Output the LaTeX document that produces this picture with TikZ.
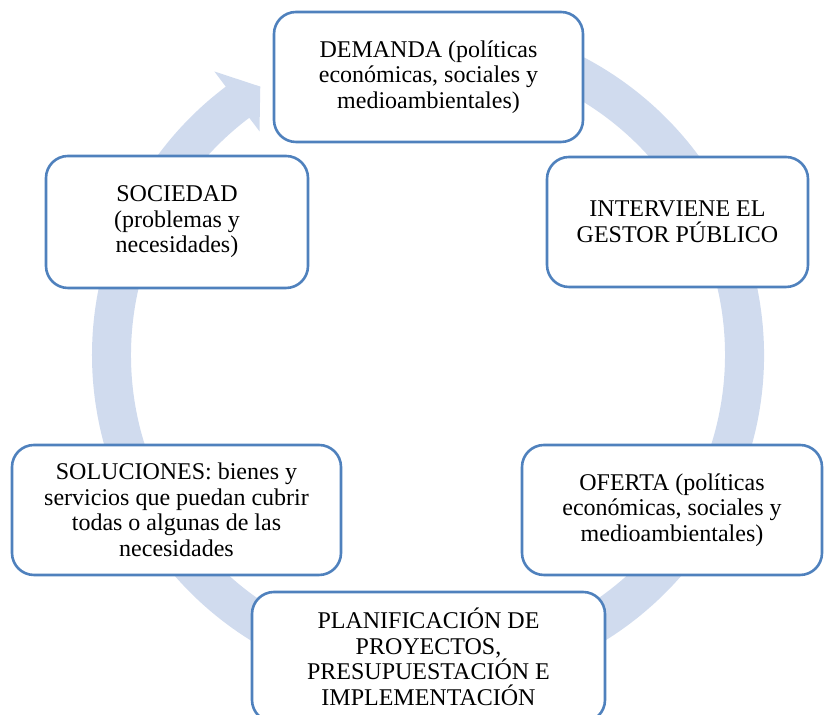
\documentclass[tikz,border=0pt]{standalone}
\usepackage{fontspec}
\setmainfont{Liberation Serif}
\usepackage{tikz}
\usetikzlibrary{calc}
\definecolor{ringblue}{RGB}{208,219,238}
\definecolor{boxblue}{RGB}{79,129,189}

\begin{document}
\begin{tikzpicture}[x=0.5pt, y=0.5pt,
    box/.style={draw=boxblue, line width=1.3pt, fill=white, rounded corners=11pt,
      align=center, inner sep=0pt, font=\fontsize{12}{12.8}\selectfont}]
    \pgfmathsetmacro{\xc}{428}
    \pgfmathsetmacro{\yc}{360}
    \pgfmathsetmacro{\ro}{336}
    \pgfmathsetmacro{\ri}{297}
    \pgfmathsetmacro{\rmid}{316.5}
    \pgfmathsetmacro{\ha}{355}
    \pgfmathsetmacro{\hb}{280}
    \pgfmathsetmacro{\thetas}{100}
    \pgfmathsetmacro{\thetae}{-233}
    \pgfmathsetmacro{\thetat}{-238}
    \useasboundingbox (0, 0) rectangle (824, 715);
    \fill[ringblue] ($(\xc, \yc)+(\thetas:\ro)$) arc (\thetas:\thetae:\ro)
      -- ($(\xc, \yc)+(\thetae:\ha)$) -- ($(\xc, \yc)+(\thetat:\rmid)$)
      -- ($(\xc, \yc)+(\thetae:\hb)$) -- ($(\xc, \yc)+(\thetae:\ri)$)
      arc (\thetae:\thetas:\ri) -- cycle;
    \node[box, minimum width=154.5pt, minimum height=65pt] (demanda) at (428.5, 638)
      {DEMANDA (políticas\\económicas, sociales y\\medioambientales)};
    \node[box, minimum width=130.5pt, minimum height=65pt] (gestor) at (677.5, 493)
      {INTERVIENE EL\\GESTOR PÚBLICO};
    \node[box, minimum width=150pt, minimum height=65pt] (oferta) at (672, 205)
      {OFERTA (políticas\\económicas, sociales y\\medioambientales)};
    \node[box, minimum width=164.5pt, minimum height=65pt] (soluciones) at (176.5, 205)
      {SOLUCIONES: bienes y\\servicios que puedan cubrir\\todas o algunas de las\\necesidades};
    \node[box, minimum width=131pt, minimum height=66pt] (sociedad) at (177, 493)
      {SOCIEDAD\\(problemas y\\necesidades)};
    \node[box, minimum width=176.5pt, minimum height=65pt] (planif) at (428.5, 58)
      {PLANIFICACIÓN DE\\PROYECTOS,\\PRESUPUESTACIÓN E\\IMPLEMENTACIÓN};
  \end{tikzpicture}
\end{document}
